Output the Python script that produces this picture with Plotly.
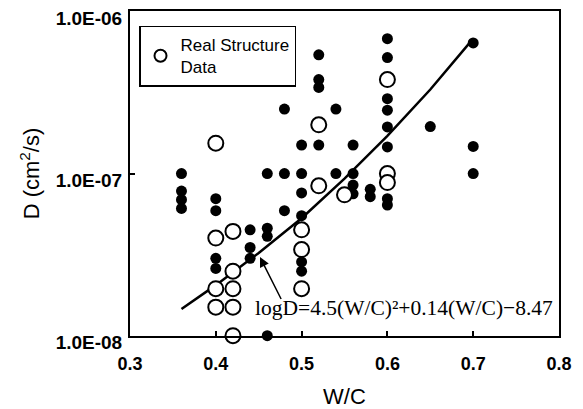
import plotly.graph_objects as go

# ---- data ----
filled_wc = [0.36, 0.36, 0.36, 0.36,
             0.40, 0.40, 0.40, 0.40,
             0.44, 0.44, 0.44,
             0.46, 0.46, 0.46, 0.46,
             0.48, 0.48, 0.48,
             0.50, 0.50, 0.50, 0.50, 0.50, 0.50,
             0.52, 0.52, 0.52, 0.52,
             0.54, 0.54,
             0.56, 0.56, 0.56, 0.56,
             0.58, 0.58,
             0.60, 0.60, 0.60, 0.60, 0.60, 0.60, 0.60, 0.60,
             0.65,
             0.70, 0.70, 0.70]
filled_d = [1.0e-7, 7.8e-8, 6.9e-8, 6.1e-8,
            7.0e-8, 5.9e-8, 3.0e-8, 2.6e-8,
            4.5e-8, 3.5e-8, 3.0e-8,
            1.0e-7, 4.6e-8, 4.1e-8, 1.0e-8,
            2.5e-7, 1.0e-7, 5.9e-8,
            1.5e-7, 1.0e-7, 7.6e-8, 5.5e-8, 2.85e-8, 2.5e-8,
            5.4e-7, 3.8e-7, 3.4e-7, 1.5e-7,
            2.5e-7, 1.0e-7,
            1.5e-7, 1.0e-7, 8.5e-8, 7.5e-8,
            8.0e-8, 7.2e-8,
            6.8e-7, 5.2e-7, 2.9e-7, 2.46e-7, 1.94e-7, 1.46e-7, 7.0e-8, 6.4e-8,
            1.95e-7,
            6.4e-7, 1.47e-7, 1.0e-7]

open_wc = [0.40, 0.40, 0.40, 0.40,
           0.42, 0.42, 0.42, 0.42, 0.42,
           0.50, 0.50, 0.50,
           0.52, 0.52,
           0.55,
           0.60, 0.60, 0.60]
open_d = [1.54e-7, 4.0e-8, 1.95e-8, 1.5e-8,
          4.4e-8, 2.5e-8, 1.95e-8, 1.5e-8, 1.0e-8,
          4.5e-8, 3.4e-8, 1.95e-8,
          2.0e-7, 8.4e-8,
          7.4e-8,
          3.8e-7, 1.0e-7, 8.8e-8]

fit_wc = [0.36, 0.40, 0.45, 0.50, 0.55, 0.60, 0.65, 0.70]
fit_d = [1.46e-8, 2.05e-8, 3.24e-8, 5.3e-8, 9.3e-8, 1.71e-7, 3.3e-7, 6.8e-7]

x_ticks = [0.3, 0.4, 0.5, 0.6, 0.7, 0.8]
x_ticktext = ["0.3", "0.4", "0.5", "0.6", "0.7", "0.8"]
y_ticks = [1e-8, 1e-7, 1e-6]
y_ticktext = ["1.0E-08", "1.0E-07", "1.0E-06"]

legend_label = "Real Structure<br>Data"
equation_text = "logD=4.5(W/C)\u00b2+0.14(W/C)\u22128.47"

# ---- figure ----
fig = go.Figure()

fig.add_trace(go.Scatter(
    x=fit_wc, y=fit_d, mode="lines",
    line=dict(color="black", width=2.5),
    showlegend=False, hoverinfo="skip"))

fig.add_trace(go.Scatter(
    x=filled_wc, y=filled_d, mode="markers",
    marker=dict(symbol="circle", size=11, color="black"),
    showlegend=False, cliponaxis=False))

fig.add_trace(go.Scatter(
    x=open_wc, y=open_d, mode="markers", name=legend_label,
    marker=dict(symbol="circle", size=15, color="white",
                line=dict(color="black", width=2)),
    showlegend=True, cliponaxis=False))

# equation and arrow
fig.add_annotation(
    x=0.4515, y=-7.515, xref="x", yref="y",
    ax=0.477, ay=-7.783, axref="x", ayref="y",
    showarrow=True, arrowhead=2, arrowsize=1.3, arrowwidth=1.5,
    arrowcolor="black", text="")
fig.add_annotation(
    x=0.4434, y=-7.83, xref="x", yref="y",
    xanchor="left", yanchor="middle", showarrow=False,
    text=equation_text,
    font=dict(family="Liberation Serif", size=21.5, color="black"))

xtick_font = dict(family="Liberation Sans", size=18, color="black", weight="bold")
ytick_font = dict(family="Liberation Sans", size=19, color="black", weight="bold")
title_font = dict(family="Liberation Sans", size=22, color="black")

fig.update_xaxes(
    range=[0.3, 0.8], tickvals=x_ticks, ticktext=x_ticktext,
    ticks="inside", ticklen=5, tickwidth=1.5, tickcolor="black",
    showline=True, linecolor="black", linewidth=2, mirror=True,
    showgrid=False, zeroline=False, tickfont=xtick_font,
    ticklabelstandoff=10, automargin=False,
    title=dict(text="W/C", font=title_font, standoff=18))

fig.update_yaxes(
    type="log", range=[-8.002, -5.997], tickvals=y_ticks, ticktext=y_ticktext,
    ticks="inside", ticklen=5, tickwidth=1.5, tickcolor="black",
    showline=True, linecolor="black", linewidth=2, mirror=True,
    showgrid=False, zeroline=False, tickfont=ytick_font,
    ticklabelshift=7, ticklabelstandoff=2, ticklabeloverflow="allow",
    automargin=False,
    title=dict(text="D (cm<sup>2</sup>/s)", font=title_font, standoff=10))

fig.update_layout(
    width=583, height=409, autosize=False,
    margin=dict(l=130, r=24, t=11, b=73, autoexpand=False),
    paper_bgcolor="white", plot_bgcolor="white",
    legend=dict(x=0.021, y=0.955, xanchor="left", yanchor="top",
                bgcolor="white", bordercolor="black", borderwidth=1.5,
                font=dict(family="Liberation Sans", size=17, color="black"),
                itemsizing="constant", tracegroupgap=0),
)

fig.write_html("out.html")
